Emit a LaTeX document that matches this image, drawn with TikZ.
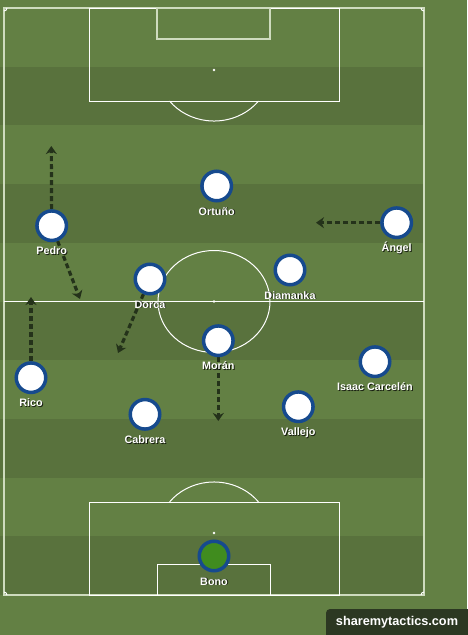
\documentclass[tikz,border=0pt]{standalone}
\usepackage{fontspec}
\setmainfont{Liberation Sans}
\usetikzlibrary{arrows.meta}
\definecolor{grasslight}{RGB}{99,128,68}
\definecolor{grassdark}{RGB}{89,114,61}
\definecolor{touchline}{RGB}{206,219,190}
\definecolor{kitblue}{RGB}{22,74,142}
\definecolor{keepergreen}{RGB}{64,140,30}
\definecolor{runcolour}{RGB}{36,50,26}
\definecolor{creditbox}{RGB}{44,56,34}
\pgfdeclarelayer{pitch}
\pgfdeclarelayer{runs}
\pgfsetlayers{pitch,runs,main}
\tikzset{
  pitchline/.style={draw=white,line width=1pt},
  boundary/.style={draw=touchline,line width=1.6pt},
  spot/.style={fill=white},
  player/.style={circle,draw=kitblue,fill=white,line width=3.5pt,minimum size=29.5pt,inner sep=0pt},
  keeper/.style={player,fill=keepergreen},
  plabel/.style={text=white,font=\bfseries\fontsize{10.8}{12}\selectfont,anchor=base,inner sep=0pt},
  pshadow/.style={plabel,text=black,opacity=0.75},
  run/.style={draw=runcolour,line width=3.2pt,dash pattern=on 5pt off 3pt,-{Stealth[length=8pt,width=11pt,inset=2.5pt]}}
}
\newcommand{\player}[5]{%
  \node[#5] (#1) at (#2,#3) {};
  \node[pshadow] (#1-shade) at (#2+0.9,#3+29.9) {#4};
  \node[plabel] (#1-name) at (#2,#3+29) {#4};}
\newcommand{\run}[4]{%
  \coordinate (#1-to) at (#2,#3);
  \begin{pgfonlayer}{runs}\draw[run] (#1) -- (#1-to);\end{pgfonlayer}}

\begin{document}
\begin{tikzpicture}[x=1pt,y=-1pt]
    \useasboundingbox (0,0) rectangle (467,635);
    \begin{pgfonlayer}{pitch}
    % grass and stripes
    \fill[grasslight] (0,0) rectangle (467,635);
    \foreach \k in {1,3,5,7,9}
        \fill[grassdark] (0,{8+58.7*\k}) rectangle (424,{8+58.7*(\k+1)});
    % markings
    \draw[boundary] (4,8) rectangle (424,595);
    \draw[pitchline] (4,301.5) -- (424,301.5);
    \draw[pitchline] (214,301.5) ellipse[x radius=56,y radius=51];
    \fill[spot] (214,301.5) circle[radius=1.3];
    \draw[pitchline] (89,8) rectangle (339,101);
    \draw[boundary,line width=1.2pt] (157,8) rectangle (270,39);
    \fill[spot] (214,70) circle[radius=1.3];
    \draw[pitchline] (258.5,101) arc[start angle=37.4,end angle=142.6,x radius=56,y radius=51];
    \draw[pitchline] (89,595) rectangle (339,502);
    \draw[pitchline] (157,595) rectangle (270,564);
    \fill[spot] (214,533) circle[radius=1.3];
    \draw[pitchline] (258.5,502) arc[start angle=-37.4,end angle=-142.6,x radius=56,y radius=51];
    % corners
    \draw[pitchline] (7,8) arc[start angle=0,end angle=90,radius=3];
    \draw[pitchline] (421,8) arc[start angle=180,end angle=90,radius=3];
    \draw[pitchline] (7,595) arc[start angle=0,end angle=-90,radius=3];
    \draw[pitchline] (421,595) arc[start angle=180,end angle=270,radius=3];
    \end{pgfonlayer}

    \player{ortuno}{216.7}{186}{Ortuño}{player}
    \player{pedro}{51.7}{225.7}{Pedro}{player}
    \player{angel}{396.7}{222.7}{Ángel}{player}
    \player{dorca}{150}{279}{Dorca}{player}
    \player{diamanka}{290}{270}{Diamanka}{player}
    \player{moran}{218.3}{340.7}{Morán}{player}
    \player{carcelen}{375}{361.7}{Isaac Carcelén}{player}
    \player{rico}{31}{377.7}{Rico}{player}
    \player{cabrera}{145}{414.3}{Cabrera}{player}
    \player{vallejo}{298.3}{406.7}{Vallejo}{player}
    \player{bono}{214}{556}{Bono}{keeper}

    \run{pedro}{51.3}{146}{}
    \coordinate (pedro-down) at (80,299);
    \begin{pgfonlayer}{runs}\draw[run] (pedro) -- (pedro-down);\end{pgfonlayer}
    \run{angel}{316}{222.7}{}
    \run{rico}{31}{297}{}
    \run{dorca}{118}{353}{}
    \run{moran}{218.3}{421}{}

    \fill[creditbox,rounded corners=4pt] (326,640) rectangle (472,609);
    \node[text=white,font=\bfseries\fontsize{12.7}{14}\selectfont,inner sep=0pt] (credit) at (397,622.5) {sharemytactics.com};
\end{tikzpicture}
\end{document}
